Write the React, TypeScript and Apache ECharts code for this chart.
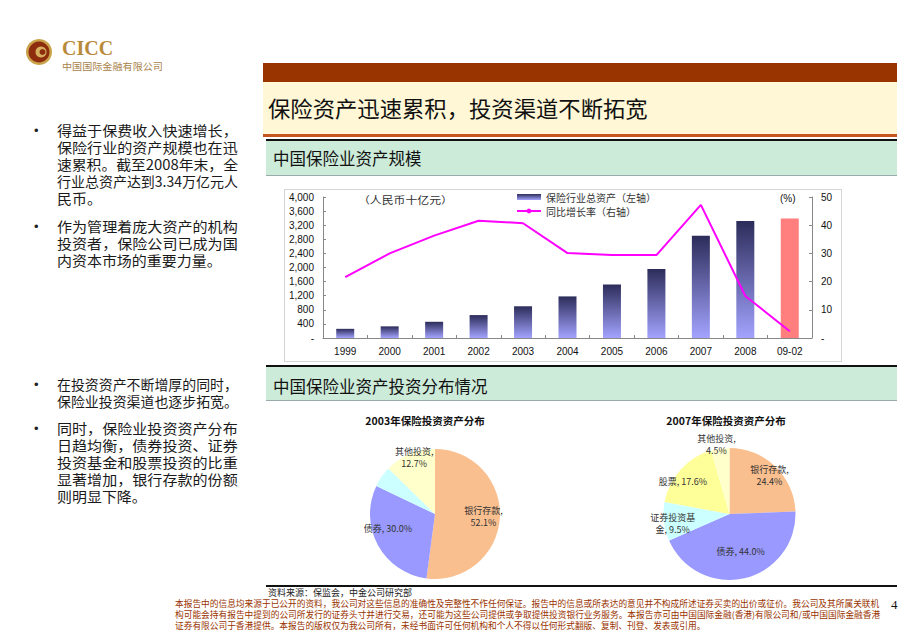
import React, { useEffect, useRef } from "react";
import * as echarts from "echarts";

// ---------- data ----------
const years = ["1999", "2000", "2001", "2002", "2003", "2004", "2005", "2006", "2007", "2008", "09-02"];
const totalAssets = [260, 330, 460, 650, 900, 1180, 1520, 1960, 2900, 3320, 3390];
const growthRate = [21.6, 30.0, 36.3, 41.6, 40.7, 30.1, 29.4, 29.4, 47.2, 14.9, 2.4];
const leftAxis = { min: 0, max: 4000, interval: 400 };
const rightAxis = { min: 0, max: 50, interval: 10 };

const pie2003Names = ["银行存款", "债券", "证券投资基金", "其他投资"];
const pie2003Values = [52.1, 30.0, 5.2, 12.7];
const pie2007Names = ["银行存款", "债券", "证券投资基金", "股票", "其他投资"];
const pie2007Values = [24.4, 44.0, 9.5, 17.6, 4.5];

// label nudges (px) for the pie labels
const pie2003LabelOffsets = [[13, 0], [-16, -2], [-28, -14], [-7, -24]];
const pie2007LabelOffsets = [[15, -13], [3, 2], [-21, 5], [-20, -8], [-8, -34]];

const bullets1 = [
  ["得益于保费收入快速增长，", "保险行业的资产规模也在迅", "速累积。截至2008年末，全", "行业总资产达到3.34万亿元人", "民币。"],
  ["作为管理着庞大资产的机构", "投资者，保险公司已成为国", "内资本市场的重要力量。"],
];
const bullets2 = [
  ["在投资资产不断增厚的同时，", "保险业投资渠道也逐步拓宽。"],
  ["同时，保险业投资资产分布", "日趋均衡，债券投资、证券", "投资基金和股票投资的比重", "显著增加，银行存款的份额", "则明显下降。"],
];
const disclaimer = [
  "本报告中的信息均来源于已公开的资料，我公司对这些信息的准确性及完整性不作任何保证。报告中的信息或所表达的意见并不构成所述证券买卖的出价或征价。我公司及其所属关联机",
  "构可能会持有报告中提到的公司所发行的证券头寸并进行交易，还可能为这些公司提供或争取提供投资银行业务服务。本报告亦可由中国国际金融(香港)有限公司和/或中国国际金融香港",
  "证券有限公司于香港提供。本报告的版权仅为我公司所有，未经书面许可任何机构和个人不得以任何形式翻版、复制、刊登、发表或引用。",
];

// ---------- styles ----------
const CJK = '"Noto Sans CJK SC", "Noto Sans", sans-serif';
const ARIAL = '"Liberation Sans", Arial, sans-serif';
const pieColors: Record<string, string> = {
  银行存款: "#FABF8F",
  债券: "#9999FF",
  证券投资基金: "#CCFFFF",
  其他投资: "#FFFFCC",
  股票: "#FFFF99",
};

let measureCtx: CanvasRenderingContext2D | null = null;
function measure(t: string, font: string) {
  if (!measureCtx) measureCtx = document.createElement("canvas").getContext("2d");
  if (!measureCtx) return t.length * 10;
  measureCtx.font = font;
  return measureCtx.measureText(t).width;
}

function pieLabel(p: any) {
  const v = Number(p.value).toFixed(1) + "%";
  switch (p.name) {
    case "银行存款":
    case "其他投资":
      return `${p.name},\n${v}`;
    case "证券投资基金":
      return `证券投资基\n金, ${v}`;
    default:
      return `${p.name}, ${v}`;
  }
}

function text(x: number, y: number, t: string, size: number, fill: string, opts: any = {}) {
  const font = `${opts.weight || "normal"} ${size}px ${opts.family || CJK}`;
  let sx = 1;
  if (opts.width) sx = opts.width / measure(t, font);
  if (opts.scaleX) sx = opts.scaleX;
  return {
    type: "text",
    silent: true,
    x,
    y,
    scaleX: sx,
    style: {
      text: t,
      x: 0,
      y: 0,
      fill,
      font,
      textAlign: opts.align || "left",
      textVerticalAlign: "middle",
    },
  };
}

function bulletBlock(blocks: string[][], starts: number[], lh: number) {
  const els: any[] = [];
  blocks.forEach((lines, bi) => {
    const y0 = starts[bi];
    els.push(text(34, y0, "•", 13, "#222", { family: ARIAL }));
    lines.forEach((ln, li) => {
      const last = li === lines.length - 1 && ln.length < 12;
      els.push(
        text(57, y0 + li * lh, ln, 14, "#1a1a1a", last ? { scaleX: 1.07 } : { width: 181 })
      );
    });
  });
  return els;
}

export default function App() {
  const ref = useRef<HTMLDivElement>(null);

  useEffect(() => {
    if (!ref.current) return;
    const chart = echarts.init(ref.current, null, { renderer: "svg" });

    const barGradient = new echarts.graphic.LinearGradient(0, 0, 0, 1, [
      { offset: 0, color: "#2C2C5A" },
      { offset: 1, color: "#A3A3FF" },
    ]);

    const graphics: any[] = [
      // logo
      { type: "circle", silent: true, shape: { cx: 39, cy: 52, r: 13 }, style: { fill: "#C9A24A" } },
      { type: "circle", silent: true, shape: { cx: 39, cy: 52, r: 10.5 }, style: { fill: "#8E2D0E" } },
      { type: "circle", silent: true, shape: { cx: 41, cy: 52, r: 5.5 }, style: { fill: "#D6B060" } },
      { type: "circle", silent: true, shape: { cx: 42.5, cy: 52, r: 3 }, style: { fill: "#8E2D0E" } },
      text(62, 48, "CICC", 20, "#B98A3A", { family: '"Liberation Serif", serif', weight: "bold" }),
      text(62, 66, "中国国际金融有限公司", 9.5, "#A8824A", { width: 101 }),

      // header bands
      { type: "rect", silent: true, shape: { x: 263, y: 63, width: 634, height: 19 }, style: { fill: "#993300" } },
      { type: "rect", silent: true, shape: { x: 263, y: 82, width: 634, height: 52 }, style: { fill: "#FFF7D6" } },
      { type: "rect", silent: true, shape: { x: 263, y: 134, width: 634, height: 3 }, style: { fill: "#C4561E" } },
      { type: "rect", silent: true, shape: { x: 266, y: 139, width: 631, height: 2 }, style: { fill: "#111" } },
      { type: "rect", silent: true, shape: { x: 266, y: 141, width: 631, height: 34 }, style: { fill: "#CDEBD9" } },
      { type: "line", silent: true, shape: { x1: 266, y1: 175.5, x2: 897, y2: 175.5 }, style: { stroke: "#9AA", lineWidth: 1 } },
      text(268, 107, "保险资产迅速累积，投资渠道不断拓宽", 22, "#111", { width: 380 }),
      text(273, 158, "中国保险业资产规模", 16.5, "#111"),

      // chart box
      { type: "rect", silent: true, shape: { x: 284.5, y: 189.5, width: 557, height: 172 }, style: { fill: "none", stroke: "#AAAAAA", lineWidth: 1, lineDash: [1, 1] } },
      text(358, 199, "（人民币十亿元）", 10, "#333", { width: 95 }),
      text(780, 198, "(%)", 10, "#111", { family: ARIAL }),

      // second section header
      { type: "rect", silent: true, shape: { x: 266, y: 365, width: 631, height: 2 }, style: { fill: "#111" } },
      { type: "rect", silent: true, shape: { x: 266, y: 367, width: 631, height: 33 }, style: { fill: "#CDEBD9" } },
      { type: "line", silent: true, shape: { x1: 266, y1: 400.5, x2: 897, y2: 400.5 }, style: { stroke: "#9AA", lineWidth: 1 } },
      text(273, 386, "中国保险业资产投资分布情况", 16.5, "#111"),

      // pie titles
      text(425, 420, "2003年保险投资资产分布", 10.5, "#111", { weight: "bold", align: "center" }),
      text(726, 420, "2007年保险投资资产分布", 10.5, "#111", { weight: "bold", align: "center" }),

      // footer
      { type: "rect", silent: true, shape: { x: 266, y: 585, width: 631, height: 2 }, style: { fill: "#111" } },
      text(268, 592, "资料来源：保监会，中金公司研究部", 9, "#222"),
      text(175, 603, disclaimer[0], 9, "#993300", { width: 705 }),
      text(175, 614, disclaimer[1], 9, "#993300", { width: 706 }),
      text(175, 625, disclaimer[2], 9, "#993300", { scaleX: 705 / measure(disclaimer[0], `normal 9px ${CJK}`) }),
      text(891, 604, "4", 13, "#111", { family: '"Liberation Serif", serif' }),

      // left bullets
      ...bulletBlock(bullets1, [130, 226], 17),
      ...bulletBlock(bullets2, [384, 428], 17),
    ];

    const makePie = (names: string[], values: number[], offsets: number[][], center: number[], r: number) => ({
      type: "pie",
      center,
      radius: r,
      startAngle: 90,
      clockwise: true,
      silent: true,
      emphasis: { disabled: true },
      labelLine: { show: false },
      label: {
        show: true,
        position: "inside",
        formatter: pieLabel,
        fontSize: 9,
        lineHeight: 12,
        color: "#333",
        fontFamily: CJK,
      },
      data: names.map((n, i) => ({
        name: n,
        value: values[i],
        itemStyle: { color: pieColors[n] },
        label: { offset: offsets[i] },
      })),
    });

    const axisCommon = {
      axisLine: { show: true, lineStyle: { color: "#888", width: 1 } },
      axisTick: { show: true, inside: true, length: 3, lineStyle: { color: "#888" } },
      splitLine: { show: false },
      axisLabel: { fontSize: 10, color: "#111", fontFamily: ARIAL, margin: 9 },
    };

    chart.setOption({
      animation: false,
      backgroundColor: "#ffffff",
      graphic: { elements: graphics },
      grid: { left: 323, top: 197, width: 489, height: 141, containLabel: false, outerBoundsMode: "none" },
      legend: {
        orient: "vertical",
        left: 516,
        top: 191,
        padding: 0,
        itemWidth: 24,
        itemHeight: 6,
        itemGap: 2,
        selectedMode: false,
        textStyle: { fontSize: 10, color: "#333", fontFamily: CJK, lineHeight: 12 },
        data: [
          { name: "保险行业总资产（左轴）", icon: "rect" },
          { name: "同比增长率（右轴）" },
        ],
      },
      xAxis: {
        type: "category",
        data: years,
        boundaryGap: true,
        axisLine: { show: true, lineStyle: { color: "#888" } },
        axisTick: { show: true, inside: true, length: 3, lineStyle: { color: "#888" } },
        axisLabel: { fontSize: 10, color: "#111", fontFamily: ARIAL, margin: 8 },
      },
      yAxis: [
        {
          type: "value",
          position: "left",
          min: leftAxis.min,
          max: leftAxis.max,
          interval: leftAxis.interval,
          ...axisCommon,
          axisLabel: {
            ...axisCommon.axisLabel,
            formatter: (v: number) => (v === 0 ? "-" : v.toLocaleString("en-US")),
          },
        },
        {
          type: "value",
          position: "right",
          min: rightAxis.min,
          max: rightAxis.max,
          interval: rightAxis.interval,
          ...axisCommon,
          axisLabel: {
            ...axisCommon.axisLabel,
            formatter: (v: number) => (v === 0 ? "-" : String(v)),
          },
        },
      ],
      series: [
        {
          name: "保险行业总资产（左轴）",
          type: "bar",
          yAxisIndex: 0,
          barWidth: 18,
          silent: true,
          itemStyle: { color: barGradient },
          data: totalAssets.map((v, i) =>
            i === totalAssets.length - 1 ? { value: v, itemStyle: { color: "#FF7E7E" } } : v
          ),
        },
        {
          name: "同比增长率（右轴）",
          type: "line",
          yAxisIndex: 1,
          symbol: "none",
          silent: true,
          color: "#FF00FF",
          lineStyle: { color: "#FF00FF", width: 2 },
          data: growthRate,
        },
        makePie(pie2003Names, pie2003Values, pie2003LabelOffsets, [435, 514], 65),
        makePie(pie2007Names, pie2007Values, pie2007LabelOffsets, [729.5, 514], 66),
      ],
    });

    return () => chart.dispose();
  }, []);

  return (
    <div
      ref={ref}
      style={{ position: "absolute", left: 0, top: 0, width: 920, height: 637, background: "#fff" }}
    />
  );
}
